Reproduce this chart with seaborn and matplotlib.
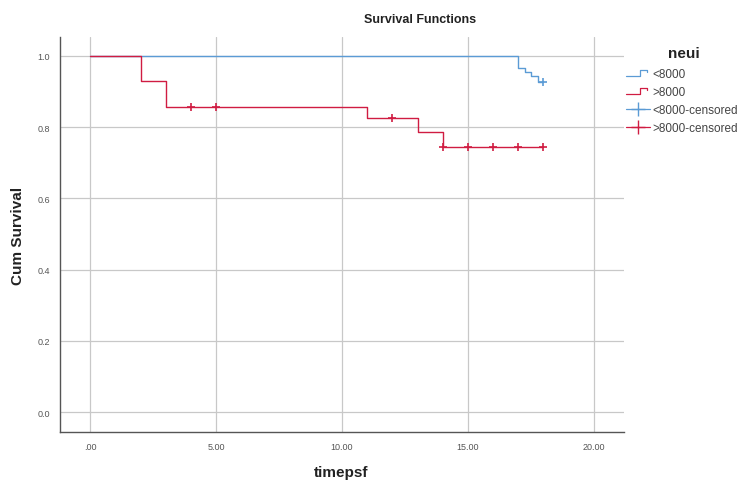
import numpy as np
import pandas as pd
import matplotlib
matplotlib.use("Agg")
import matplotlib.pyplot as plt
from matplotlib.lines import Line2D
from matplotlib.legend_handler import HandlerBase
import seaborn as sns

# Kaplan-Meier step curves per group
groups = ["<8000", ">8000"]
low_times = [0, 17.0, 17.25, 17.5, 17.8, 18.0]
low_surv = [1.0, 0.965, 0.955, 0.943, 0.928, 0.928]
high_times = [0, 2, 3, 11, 13, 14, 18]
high_surv = [1.0, 0.929, 0.857, 0.825, 0.785, 0.745, 0.745]

# censored observations
low_cens_t = [18.0]
low_cens_s = [0.928]
high_cens_t = [4, 5, 12, 14, 15, 16, 17, 18]
high_cens_s = [0.857, 0.857, 0.825, 0.745, 0.745, 0.745, 0.745, 0.745]

x_ticks = [0, 5, 10, 15, 20]
x_tick_labels = [".00", "5.00", "10.00", "15.00", "20.00"]
y_ticks = [0.0, 0.2, 0.4, 0.6, 0.8, 1.0]
y_tick_labels = ["0.0", "0.2", "0.4", "0.6", "0.8", "1.0"]

colors = {"<8000": "#5B9BD5", ">8000": "#D01C42"}

curves = pd.concat([
    pd.DataFrame({"time": low_times, "surv": low_surv, "neui": groups[0]}),
    pd.DataFrame({"time": high_times, "surv": high_surv, "neui": groups[1]}),
], ignore_index=True)
censored = pd.concat([
    pd.DataFrame({"time": low_cens_t, "surv": low_cens_s, "neui": groups[0]}),
    pd.DataFrame({"time": high_cens_t, "surv": high_cens_s, "neui": groups[1]}),
], ignore_index=True)

sns.set_theme(style="white")
plt.rcParams["font.family"] = ["Liberation Sans", "DejaVu Sans"]

W, H = 746, 481
fig = plt.figure(figsize=(W / 100, H / 100), dpi=100)
ax = fig.add_axes([60 / W, 48 / H, 564 / W, 395 / H])

sns.lineplot(data=curves, x="time", y="surv", hue="neui", palette=colors,
             hue_order=groups, estimator=None, sort=False,
             drawstyle="steps-post", linewidth=1.0, legend=False, ax=ax)
for g in groups:
    sub = censored[censored["neui"] == g]
    ax.plot(sub["time"], sub["surv"], linestyle="none", marker="+",
            markersize=6, markeredgewidth=1.2, color=colors[g], zorder=4)

ax.set_xlim(-1.2, 21.2)
ax.set_ylim(-0.056, 1.053)
ax.set_xticks(x_ticks)
ax.set_xticklabels(x_tick_labels)
ax.set_yticks(y_ticks)
ax.set_yticklabels(y_tick_labels)
ax.tick_params(axis="both", labelsize=6.5, colors="#555555", length=0, pad=7)
ax.grid(True, color="#c8c8c8", linewidth=0.9)
ax.set_axisbelow(True)
for side in ["top", "right"]:
    ax.spines[side].set_visible(False)
for side in ["left", "bottom"]:
    ax.spines[side].set_color("#555555")
    ax.spines[side].set_linewidth(1.0)

ax.set_xlabel("")
ax.set_ylabel("")
fig.text(341 / W, 1 - 473 / H, "timepsf", ha="center", va="center",
         fontsize=11, fontweight="bold", color="#222222")
fig.text(18 / W, 1 - 236 / H, "Cum Survival", ha="center", va="center",
         rotation=90, fontsize=11, fontweight="bold", color="#222222")
fig.text(420 / W, 1 - 20 / H, "Survival Functions", ha="center", va="center",
         fontsize=9, fontweight="bold", color="#222222")
fig.text(684 / W, 1 - 54 / H, "neui", ha="center", va="center",
         fontsize=11, fontweight="bold", color="#222222")


class StepHandler(HandlerBase):
    def create_artists(self, legend, orig_handle, xdescent, ydescent,
                       width, height, fontsize, trans):
        x = np.array([0, 0.6, 0.6, 0.88, 0.88]) * width - xdescent
        y = np.array([0.15, 0.15, 0.85, 0.85, 0.55]) * height - ydescent
        line = Line2D(x, y, color=orig_handle.get_color(), linewidth=0.9,
                      transform=trans)
        return [line]


step_handles = [Line2D([], [], color=colors[g]) for g in groups]
cens_handles = [Line2D([], [], color=colors[g], marker="+", markersize=10,
                       linewidth=0.9) for g in groups]
handles = step_handles + cens_handles
labels = ["<8000", ">8000", "<8000-censored", ">8000-censored"]
leg = fig.legend(handles, labels, loc="upper left",
                 bbox_to_anchor=(626 / W, 1 - 69 / H),
                 frameon=False, fontsize=8.5, borderpad=0, borderaxespad=0,
                 handler_map={step_handles[0]: StepHandler(),
                              step_handles[1]: StepHandler()},
                 handlelength=2.0, handletextpad=0.25, labelspacing=0.5)
for t in leg.get_texts():
    t.set_color("#444444")

fig.savefig("out.png", dpi=100)
